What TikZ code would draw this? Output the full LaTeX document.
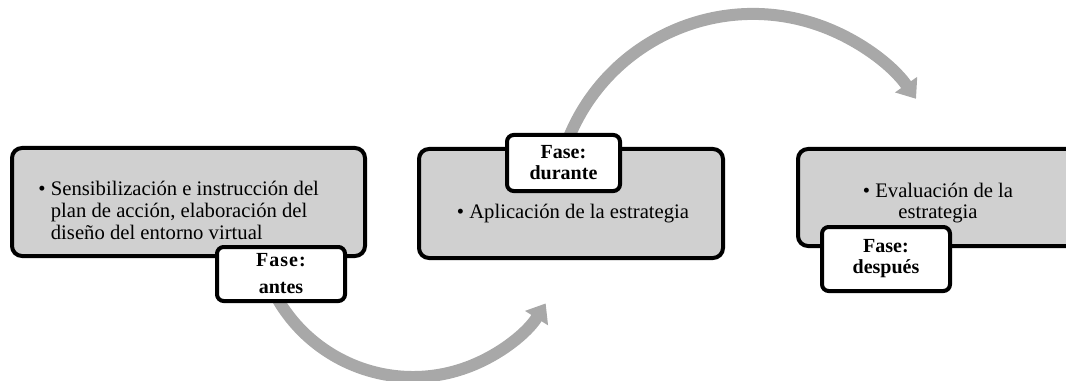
\documentclass[tikz,border=0pt]{standalone}
\usepackage{fontspec}
\setmainfont{Liberation Serif}
\usetikzlibrary{arrows.meta}

\definecolor{boxgray}{RGB}{208,208,208}
\definecolor{arrowgray}{RGB}{168,168,168}

\tikzset{every picture/.style={line width=0.75pt},
  phasebox/.style={draw=black, line width=3pt, fill=boxgray, rounded corners=7.5pt, inner sep=0pt},
  phaselabel/.style={draw=black, line width=3pt, fill=white, rounded corners=5pt, inner sep=0pt, align=center, font=\fontsize{15}{15.75}\selectfont\bfseries},
  bodytext/.style={inner sep=0pt, font=\fontsize{15.5}{16.4}\selectfont},
  flowarrow/.style={draw=arrowgray, line width=9pt, -{Triangle[length=13pt,width=19.5pt]}}
}

\begin{document}
\begin{tikzpicture}[x=0.75pt,y=0.75pt,yscale=-1,xscale=1]
        \useasboundingbox (0,0) rectangle (1066,381);
        \clip (0,0) rectangle (1066,381);

        %Arc Arrows (start hidden under the phase labels)
        \coordinate (arcantes) at (265.9,274.0);
        \coordinate (arcdurante) at (566,144.9);
        \draw [flowarrow] (arcantes) arc [start angle=160, end angle=32, radius=156.5];
        \draw [flowarrow] (arcdurante) arc [start angle=200, end angle=325, radius=199];

        %Rounded Rect [phase boxes]
        \node [phasebox, minimum width=264.75pt, minimum height=81pt] (boxantes) at (188.5,202) {};
        \node [phasebox, minimum width=228pt, minimum height=81.75pt] (boxdurante) at (571,203.5) {};
        \node [phasebox, minimum width=219pt, minimum height=72.75pt] (boxdespues) at (944,197.5) {};

        % Text Node
        \node [bodytext, anchor=west] (txtantes) at (38,213) {\begin{tabular}{@{}l@{\ }l@{}}\textbullet & Sensibilización e instrucción del\\ & plan de acción, elaboración del\\ & diseño del entorno virtual\end{tabular}};
        % Text Node
        \node [bodytext, anchor=base] (txtdurante) at (573,218) {\textbullet\ Aplicación de la estrategia};
        % Text Node
        \node [bodytext, align=center] (txtdespues) at (938,203) {\textbullet\ Evaluación de la\\estrategia};

        %Rounded Rect [phase labels]
        \node [phaselabel, minimum width=96pt, minimum height=40.5pt] (lblantes) at (281,274) {{\addfontfeature{LetterSpace=5}Fase:}\\[4.5pt]antes};
        \node [phaselabel, minimum width=84.75pt, minimum height=42pt] (lbldurante) at (563.5,163) {Fase:\\durante};
        \node [phaselabel, minimum width=96pt, minimum height=48pt] (lbldespues) at (886,259) {Fase:\\después};

\end{tikzpicture}
\end{document}
